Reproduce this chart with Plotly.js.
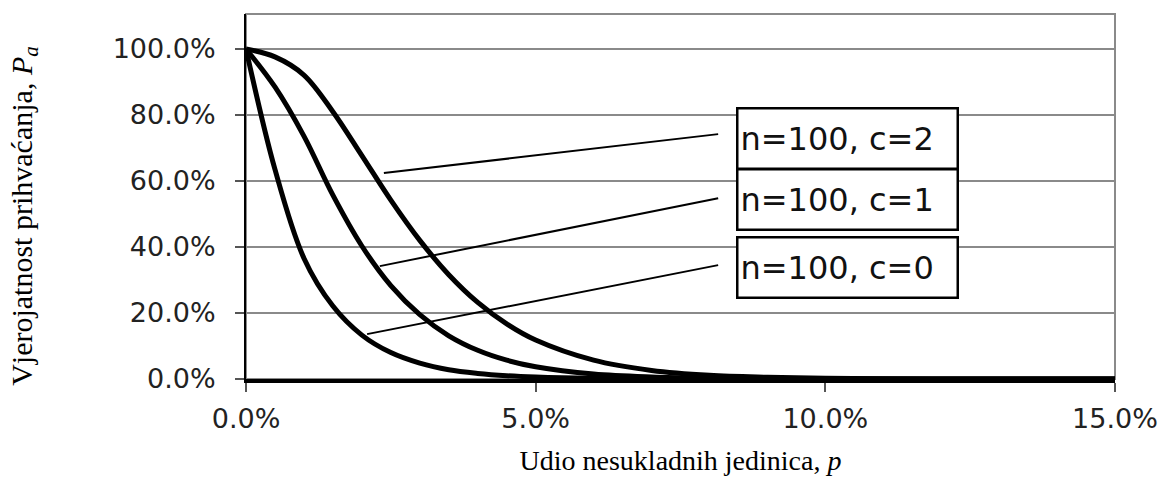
<!DOCTYPE html>
<html>
<head>
<meta charset="utf-8">
<script src="https://cdn.plot.ly/plotly-3.0.1.min.js"></script>
<style>html,body{margin:0;padding:0;background:#fff;}#chart{width:1167px;height:482px;}</style>
</head>
<body>
<div id="chart"></div>
<script>
// Fraction nonconforming p (%)
const p = [0,0.5,1,1.5,2,2.5,3,3.5,4,4.5,5,6,7,8,9,10,11,12,13,14,15];
// Probability of acceptance Pa (%)
const pa_c0 = [100,63.5,36.6,22.1,13.3,8.0,4.8,2.8,1.7,1.0,0.6,0.2,0.07,0.02,0,0,0,0,0,0,0];
const pa_c1 = [100,88.5,73.6,55.7,40.3,28.3,19.5,13.1,8.7,5.7,3.7,1.5,0.6,0.23,0.09,0.03,0,0,0,0,0];
const pa_c2 = [100,97.6,92.1,81.0,67.7,54.2,42.0,31.6,23.2,16.7,11.8,5.7,2.6,1.1,0.5,0.2,0.08,0.03,0.01,0,0];
const seriesNames = ['n=100, c=0','n=100, c=1','n=100, c=2'];
const xTickVals = [0,5,10,15];
const xTickText = ['0.0%','5.0%','10.0%','15.0%'];
const yTickVals = [0,20,40,60,80,100];
const yTickText = ['0.0%','20.0%','40.0%','60.0%','80.0%','100.0%'];
const xTitle = 'Udio nesukladnih jedinica, <i>p</i>';
const yTitle = 'Vjerojatnost prihvaćanja, <i>P</i><sub><i>a</i></sub>';
// leader line endpoints [x0,y0,x1,y1] in data units and label centres
const leaders = [[2.09,13.6,8.15,34.5],[2.31,34.2,8.15,54.8],[2.38,62.4,8.15,74.2]];
const labelPos = [[10.39,33.8],[10.39,54.4],[10.39,73.0]];

const series = [pa_c0, pa_c1, pa_c2];
const traces = series.map((v,i)=>({
  x: p, y: v, type:'scatter', mode:'lines', name: seriesNames[i],
  line:{color:'#000', width:5, shape:'spline', smoothing:1},
  hoverinfo:'skip'
}));

const shapes = [{type:'rect', xref:'paper', yref:'paper', x0:0, x1:1, y0:0, y1:1,
  line:{color:'#8a8a8a', width:2}, layer:'below'}];
leaders.forEach(l=>shapes.push({type:'line', xref:'x', yref:'y', x0:l[0], y0:l[1], x1:l[2], y1:l[3],
  line:{color:'#000', width:2}}));

const annotations = labelPos.map((lp,i)=>({
  x: lp[0], y: lp[1], xref:'x', yref:'y', text: seriesNames[i], showarrow:false,
  font:{family:'DejaVu Sans, sans-serif', size:32, color:'#111'},
  bordercolor:'#000', borderwidth:2.5, borderpad:2, bgcolor:'#fff',
  width:214, height:54, align:'left', xanchor:'center', yanchor:'middle'
}));
annotations.push({
  xref:'paper', yref:'paper', x:0, y:0.447, xshift:-222, xanchor:'center', yanchor:'middle',
  textangle:-90, showarrow:false, text:yTitle,
  font:{family:'Liberation Serif, Times New Roman, serif', size:30, color:'#000'}
});

const layout = {
  width:1167, height:482,
  margin:{l:246, r:52, t:14, b:103},
  paper_bgcolor:'#fff', plot_bgcolor:'#fff',
  showlegend:false,
  xaxis:{range:[0,15], tickmode:'array', tickvals:xTickVals, ticktext:xTickText,
    showgrid:false, zeroline:false, showline:true, linecolor:'#000', linewidth:4,
    ticks:'outside', ticklen:9, tickwidth:2, tickcolor:'#555',
    ticklabelstandoff:4,
    tickfont:{family:'DejaVu Sans, sans-serif', size:27, color:'#222'},
    title:{text:xTitle, standoff:18,
      font:{family:'Liberation Serif, Times New Roman, serif', size:28, color:'#000'}}},
  yaxis:{range:[0,110.6], tickmode:'array', tickvals:yTickVals, ticktext:yTickText,
    showgrid:true, gridcolor:'#8a8a8a', gridwidth:2, zeroline:false,
    showline:true, linecolor:'#000', linewidth:2,
    ticks:'outside', ticklen:9, tickwidth:2, tickcolor:'#555',
    ticklabelstandoff:14,
    tickfont:{family:'DejaVu Sans, sans-serif', size:27, color:'#222'}},
  shapes: shapes,
  annotations: annotations
};
Plotly.newPlot('chart', traces, layout, {displayModeBar:false, staticPlot:true});
</script>
</body>
</html>
